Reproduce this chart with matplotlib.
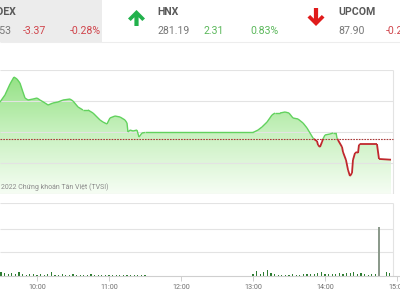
import matplotlib
matplotlib.use('Agg')
import matplotlib.pyplot as plt
import numpy as np
from matplotlib.collections import LineCollection
from matplotlib.colors import LinearSegmentedColormap
from matplotlib.patches import Polygon, Rectangle

# header quotes
idx_names = ['VN-INDEX', 'HNX', 'UPCOM']
idx_values = ['1200.53', '281.19', '87.90']
idx_changes = ['-3.37', '2.31', '-0.23']
idx_pcts = ['-0.28%', '0.83%', '-0.26%']

# intraday index (minutes after 9:00, points)
ref_close = 1203.90
t_min = [15, 29.2, 33.3, 37.5, 40.8, 43.3, 45.8, 48.3, 50, 52.5,
         56.7, 60, 62.5, 66.7, 69.2, 73.3, 77.5, 81.7, 87.5, 90,
         94.2, 98.3, 102.5, 106.7, 112.5, 115, 118.3, 120.8, 125, 129.2,
         133.3, 135, 135.8, 137.5, 140, 143.3, 145, 147.5, 150, 240,
         244.2, 247.5, 251.7, 255.8, 258.3, 262.5, 266.7, 270, 273.3, 277.5,
         281.7, 285, 287.5, 290, 291.7, 293.3, 294.2, 295.8, 297.5, 298.3,
         300, 304.2, 306.7, 309.2, 310, 310.8, 314.2, 315, 317.5, 319.2,
         320.8, 322.5, 323.3, 325, 326.7, 327.5, 328.3, 329.2, 343.3, 345,
         355]
index_vals = [1208.87, 1209.84, 1210.97, 1212.74, 1213.87, 1213.55, 1212.90, 1211.45, 1210.48, 1210.16,
              1210.32, 1210.48, 1210.16, 1209.68, 1209.35, 1209.68, 1209.84, 1210.16, 1210.32, 1210.00,
              1209.03, 1208.55, 1208.55, 1208.06, 1206.94, 1206.61, 1206.29, 1207.26, 1207.58, 1207.42,
              1206.94, 1206.45, 1205.00, 1205.32, 1205.16, 1205.32, 1204.19, 1204.84, 1204.92, 1204.92,
              1205.32, 1205.81, 1206.61, 1207.74, 1208.06, 1208.06, 1208.23, 1208.06, 1207.26, 1207.10,
              1206.45, 1205.65, 1204.84, 1204.03, 1203.71, 1203.55, 1202.90, 1202.58, 1203.39, 1203.87,
              1204.52, 1204.68, 1204.84, 1204.84, 1204.03, 1203.71, 1202.58, 1201.77, 1200.48, 1198.87,
              1197.90, 1198.39, 1200.48, 1201.61, 1201.77, 1201.61, 1202.90, 1203.06, 1203.06, 1200.65,
              1200.53]

# volume bars
vol_t_am = [15, 18, 21, 24, 27, 30, 33, 36, 39, 42, 45, 48, 51, 54, 57, 60, 63, 66, 69, 72, 75, 78, 81,
            84, 87, 90, 93, 96, 99, 102, 105, 108, 111, 114, 117, 120, 123, 126, 129, 132, 135, 138,
            141, 144, 147, 150]
vol_am = [3.0, 2.5, 2.0, 2.2, 2.8, 3.5, 2.6, 1.8, 2.4, 1.6, 3.8, 1.5, 1.2, 2.0, 1.4, 1.1, 1.6, 1.0,
          1.3, 3.2, 1.2, 1.0, 1.5, 0.9, 1.1, 1.4, 1.0, 0.8, 1.2, 0.9, 1.3, 1.0, 0.8, 1.1, 0.9, 1.2,
          0.7, 1.0, 0.8, 1.1, 0.9, 0.7, 1.0, 0.8, 0.9, 1.2]
vol_t_pm = [240, 243, 246, 249, 252, 255, 258, 261, 264, 267, 270, 273, 276, 279, 282, 285, 288, 291,
            294, 297, 300, 303, 306, 309, 312, 315, 318, 321, 324, 327, 330, 333, 336, 339, 342]
vol_pm = [1.5, 4.0, 2.0, 3.0, 5.0, 2.5, 1.5, 1.0, 1.2, 0.8, 1.0, 1.5, 1.2, 1.0, 1.8, 1.3, 2.0, 1.6,
          2.5, 3.0, 1.8, 1.4, 1.5, 2.0, 2.6, 1.8, 2.8, 2.2, 3.0, 2.0, 2.5, 1.6, 1.2, 2.0, 1.5]
atc_t = 345
atc_vol = 42.0
late_t = [351, 354]
late_vol = [3.5, 2.5]

hour_ticks = [60, 120, 180, 240, 300, 360]
hour_labels = ['10:00', '11:00', '12:00', '13:00', '14:00', '15:00']

GREEN = '#62d25e'
RED = '#c0282d'
GRID = '#e3e3e3'
XMIN, XMAX = 29.17, 362.5
XRIGHT = 356.7
font = ['Roboto', 'DejaVu Sans']

fig = plt.figure(figsize=(4, 3), dpi=100)

# ---- price panel ----
ax = fig.add_axes([0, 1 - 194 / 300, 1, 124 / 300])
ax.set_facecolor('none')
t = np.array(t_min)
v = np.array(index_vals)
fb = ax.fill_between(t, v, 1195, color='none', lw=0)
cmap = LinearSegmentedColormap.from_list('g', ['#f6fdf4', '#c8f1bf', '#8fe07f'])
grad = np.linspace(0, 1, 256).reshape(-1, 1)
im = ax.imshow(grad, extent=[t[0], t[-1], 1195, 1215], aspect='auto', origin='lower',
               cmap=cmap, zorder=1)
im.set_clip_path(fb.get_paths()[0], transform=ax.transData)

# split line at the reference level, colour each piece
segs, cols = [], []
for i in range(len(t) - 1):
    x0, y0, x1, y1 = t[i], v[i], t[i + 1], v[i + 1]
    if (y0 - ref_close) * (y1 - ref_close) < 0:
        xc = x0 + (ref_close - y0) * (x1 - x0) / (y1 - y0)
        pieces = [((x0, y0), (xc, ref_close)), ((xc, ref_close), (x1, y1))]
    else:
        pieces = [((x0, y0), (x1, y1))]
    for p in pieces:
        segs.append(p)
        cols.append(GREEN if (p[0][1] + p[1][1]) / 2 >= ref_close else RED)
lc = LineCollection(segs, colors=cols, linewidths=[1.0 if c == GREEN else 1.3 for c in cols], zorder=4)
ax.add_collection(lc)

for g in [1215, 1210, 1205, 1200, 1195]:
    ax.hlines(g, XMIN, XRIGHT, color=GRID, lw=0.8, zorder=2)
ax.vlines(XRIGHT, 1195, 1215, color=GRID, lw=0.8)
ax.hlines(ref_close, XMIN, XRIGHT, color='#a83a3a', lw=0.8, linestyles=(0, (1.5, 1)), zorder=3)
ax.text(XMIN + 0.8, 1196.2, '2022 Chứng khoán Tân Việt (TVSI)', fontsize=5.0, color='#8a8a8a',
        family=font, va='center', ha='left', zorder=5)
ax.set_xlim(XMIN, XMAX)
ax.set_ylim(1195, 1215)
ax.axis('off')

# ---- volume panel ----
vax = fig.add_axes([0, 1 - 276 / 300, 1, 73 / 300])
vax.set_facecolor('none')
vax.bar(vol_t_am, vol_am, width=0.9, color='#2e7d32', lw=0)
vax.bar(vol_t_pm, vol_pm, width=0.9, color='#2e7d32', lw=0)
vax.bar(late_t, late_vol, width=0.9, color='#2e7d32', lw=0)
vax.bar([atc_t], [atc_vol], width=1.2, color='#8c9a8c', lw=0)
for g in [20, 40, 62.1]:
    vax.hlines(g, XMIN, XRIGHT, color=GRID, lw=0.8, zorder=0)
vax.vlines(XRIGHT, 0, 62.1, color=GRID, lw=0.8)
vax.set_xlim(XMIN, XMAX)
vax.set_ylim(0, 62.1)
for s in ['top', 'right', 'left']:
    vax.spines[s].set_visible(False)
vax.spines['bottom'].set_color('#cfcfcf')
vax.spines['bottom'].set_linewidth(0.8)
vax.set_yticks([])
vax.set_xticks(hour_ticks)
vax.set_xticklabels(hour_labels, family=font)
vax.tick_params(axis='x', length=3.5, width=0.7, color='#cfcfcf', labelsize=5.2,
                labelcolor='#707070', pad=2.5)

# ---- header ----
hdr = fig.add_axes([0, 0, 1, 1])
hdr.set_xlim(0, 400)
hdr.set_ylim(300, 0)
hdr.axis('off')
hdr.add_patch(Rectangle((0, 0), 102, 41.5, color='#ececec', lw=0))
hdr.hlines(42, 0, 400, color='#ededed', lw=0.8)
hfont = ['Liberation Sans Narrow', 'Roboto', 'DejaVu Sans']
hdr.add_patch(Polygon([(136.5, 10), (145, 18.5), (142.3, 21), (138.6, 17.3), (138.6, 26),
                       (134.4, 26), (134.4, 17.3), (130.7, 21), (128, 18.5)],
                      closed=True, color='#22b14c', lw=0))
hdr.add_patch(Polygon([(316, 26), (307.5, 17.5), (310.2, 15), (313.9, 18.7), (313.9, 8),
                       (318.1, 8), (318.1, 18.7), (321.8, 15), (324.5, 17.5)],
                      closed=True, color='#e01b1b', lw=0))
name_x = [16.5, 157, 338]
val_x = [11, 157, 338]
chg_x = [23, 204, 386]
pct_x = [70, 250, 420]
for i in range(3):
    up = idx_changes[i][0] != '-'
    c = '#5cb85c' if up else '#d0454c'
    hdr.text(name_x[i], 12, idx_names[i], ha='right' if i == 0 else 'left', va='center',
             fontsize=7.6, fontweight='bold', color='#5a5a5a', family=hfont)
    hdr.text(val_x[i], 31, idx_values[i], ha='right' if i == 0 else 'left', va='center',
             fontsize=7.6, color='#777777', family=hfont)
    hdr.text(chg_x[i], 31, idx_changes[i], ha='left', va='center', fontsize=7.6, color=c, family=hfont)
    hdr.text(pct_x[i], 31, idx_pcts[i], ha='left', va='center', fontsize=7.6, color=c, family=hfont)

fig.savefig('out.png', dpi=100)
